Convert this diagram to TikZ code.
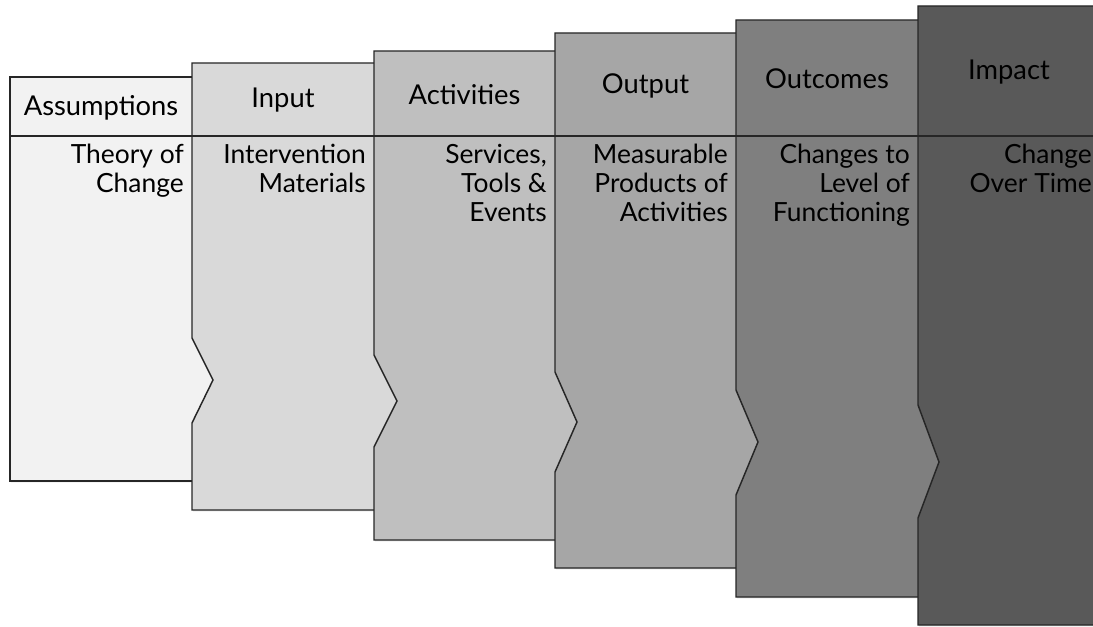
\documentclass[tikz,border=0pt]{standalone}
\usepackage{fontspec}
\setmainfont{Lato}
\usetikzlibrary{shadows}
\definecolor{p1}{HTML}{F2F2F2}
\definecolor{p2}{HTML}{D9D9D9}
\definecolor{p3}{HTML}{BFBFBF}
\definecolor{p4}{HTML}{A6A6A6}
\definecolor{p5}{HTML}{7F7F7F}
\definecolor{p6}{HTML}{595959}
\begin{document}
\begin{tikzpicture}[x=0.75pt,y=-0.75pt,
  panel/.style={draw=black!85, line width=1.1pt, line join=miter,
    drop shadow={shadow xshift=0.8pt, shadow yshift=-1pt, opacity=0.25}},
  rule/.style={draw=black!85, line width=1.1pt},
  head/.style={font=\fontsize{20.5}{24}\selectfont, anchor=center, inner sep=0pt},
  body/.style={font=\fontsize{19.8}{21.75}\selectfont, align=right, anchor=north east, inner sep=0pt}]
\useasboundingbox (0,0) rectangle (1093,627);
\begin{scope}
\clip (0,0) rectangle (1093,627);
% each stage: index/left/top/bottom/notch start/apex x/apex y/notch end/right/colour/title/description
\foreach \i/\l/\t/\b/\ns/\ax/\ay/\ne/\r/\col/\head/\txt in {
  1/10/77/481/300/10/300/300/192/p1/Assumptions/{Theory of\\Change},
  2/192/63/510/338/213/380/423/374/p2/Input/{Intervention\\Materials},
  3/374/51/540/355/397/401/447/555/p3/Activities/{Services,\\Tools \&\\Events},
  4/555/33/568/372/577/422/472/736/p4/Output/{Measurable\\Products of\\Activities},
  5/736/20/597/390/758/442/495/918/p5/Outcomes/{Changes to\\Level of\\Functioning},
  6/918/6/625/405/939/462/518/1100/p6/Impact/{Change\\Over Time}}{
  \path[panel, fill=\col] (\l,\t) -- ({\r+30},\t) -- ({\r+30},\b) -- (\l,\b)
    -- (\l,\ne) -- (\ax,\ay) -- (\l,\ns) -- cycle;
  \draw[rule] (\l,136) -- ({\r+30},136);
  \node[head] (h\i) at ({(\l+\r)/2},{(\t+136)/2+1}) {\head};
  \node[body] (b\i) at ({\r-8},144) {\txt};
}
\end{scope}
\end{tikzpicture}
\end{document}
